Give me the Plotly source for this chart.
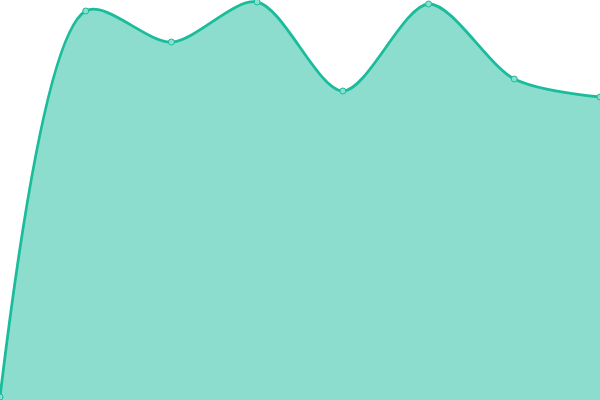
import plotly.graph_objects as go

categories = [0, 1, 2, 3, 4, 5, 6, 7]
values = [3, 389, 358, 398, 309, 396, 321, 303]

fig = go.Figure()
fig.add_trace(go.Scatter(
    x=categories, y=values,
    mode="lines+markers",
    line=dict(color="#1abc9c", width=2.8, shape="spline", smoothing=0.85),
    marker=dict(size=6, color="#8ae0cf", line=dict(color="#1abc9c", width=1)),
    fill="tozeroy",
    fillcolor="rgba(26,188,156,0.5)",
    hoverinfo="skip",
    cliponaxis=False,
))
fig.update_layout(
    width=600, height=400,
    margin=dict(l=0, r=0, t=0, b=0),
    paper_bgcolor="white", plot_bgcolor="white",
    showlegend=False,
    xaxis=dict(range=[0, 7], visible=False, fixedrange=True),
    yaxis=dict(range=[0, 400], visible=False, fixedrange=True),
)
fig.write_html(
    "out.html",
    config={"displayModeBar": False},
    post_script="document.body.style.margin='0';document.body.style.overflow='hidden';",
)
